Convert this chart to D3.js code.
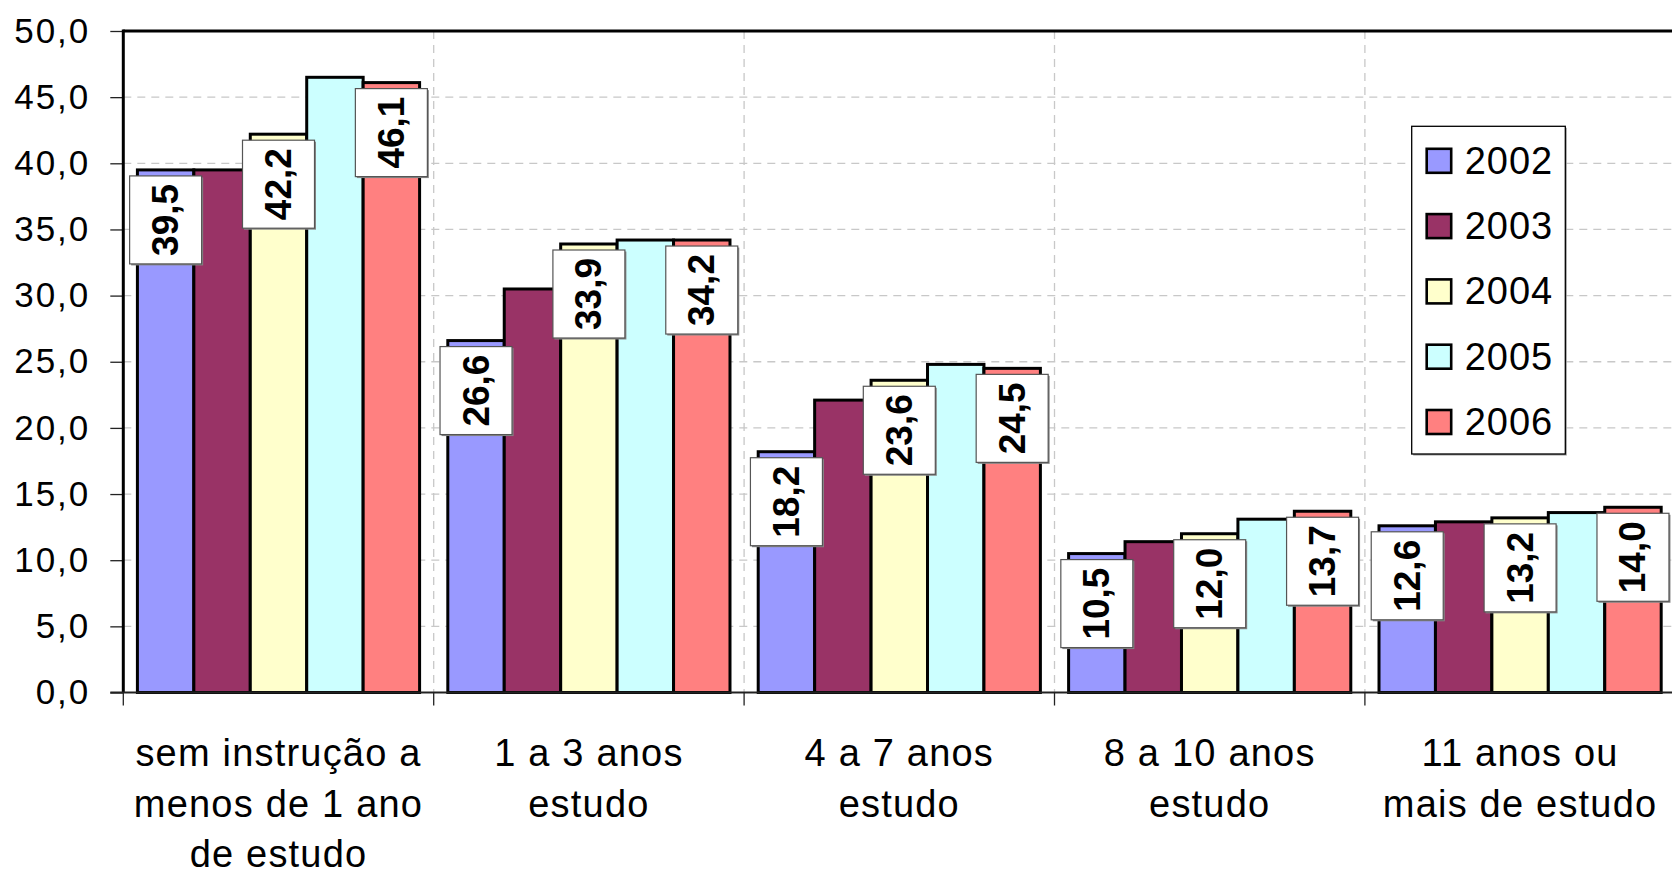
<!DOCTYPE html>
<html>
<head>
<meta charset="utf-8">
<script src="https://cdn.jsdelivr.net/npm/d3@7"></script>
<style>
  body { margin: 0; background: #fff; }
  svg { display: block; font-family: "Liberation Sans", Arial, sans-serif; }
</style>
</head>
<body>
<script>
var width = 1672;
var height = 872;

// data
var categories = [
  ['sem instrução a', 'menos de 1 ano', 'de estudo'],
  ['1 a 3 anos', 'estudo'],
  ['4 a 7 anos', 'estudo'],
  ['8 a 10 anos', 'estudo'],
  ['11 anos ou', 'mais de estudo']
];
var years = ['2002', '2003', '2004', '2005', '2006'];
var values2002 = [39.5, 26.6, 18.2, 10.5, 12.6];
var values2003 = [39.5, 30.5, 22.1, 11.4, 12.9];
var values2004 = [42.2, 33.9, 23.6, 12.0, 13.2];
var values2005 = [46.5, 34.2, 24.8, 13.1, 13.6];
var values2006 = [46.1, 34.2, 24.5, 13.7, 14.0];
var series = [values2002, values2003, values2004, values2005, values2006];
var labelled = ['2002', '2004', '2006'];
var yTicks = [0, 5, 10, 15, 20, 25, 30, 35, 40, 45, 50];

var colors = ['#9999ff', '#993366', '#ffffcc', '#ccffff', '#ff8080'];

var plotLeft = 123.3, plotTop = 31, plotBottom = 692.5;
var step = 310.4;

var svg = d3.select('body').append('svg').attr('width', width).attr('height', height);

var catIdx = categories.map(function(d, i) { return i; });
var x0 = d3.scaleBand().domain(catIdx).range([plotLeft, plotLeft + step * categories.length]).padding(0);
var x1 = d3.scaleBand().domain(years).range([0, x0.bandwidth()]).paddingInner(0).paddingOuter(0.25);
var y = d3.scaleLinear().domain([0, 50]).range([plotBottom, plotTop]);

var comma = function(v) { return d3.format('.1f')(v).replace('.', ','); };

// horizontal dashed grid
svg.append('g').selectAll('line').data(yTicks.slice(1)).enter().append('line')
  .attr('x1', plotLeft).attr('x2', width)
  .attr('y1', function(d) { return y(d); }).attr('y2', function(d) { return y(d); })
  .attr('stroke', '#c8c8c8').attr('stroke-width', 1.3).attr('stroke-dasharray', '8,6');

// vertical dashed grid at category boundaries
svg.append('g').selectAll('line').data(catIdx.slice(1)).enter().append('line')
  .attr('x1', function(d) { return x0(d); }).attr('x2', function(d) { return x0(d); })
  .attr('y1', plotTop).attr('y2', plotBottom)
  .attr('stroke', '#c8c8c8').attr('stroke-width', 1.3).attr('stroke-dasharray', '8,6');

// y axis
var yAxis = d3.axisLeft(y).tickValues(yTicks).tickSize(13).tickPadding(22).tickFormat(comma);
var gy = svg.append('g').attr('transform', 'translate(' + plotLeft + ',0)').call(yAxis);
gy.select('.domain').remove();
gy.selectAll('.tick line').attr('stroke', '#222').attr('stroke-width', 1.3);
gy.selectAll('.tick text').attr('font-size', 35).attr('fill', '#000')
  .attr('font-family', '"Liberation Sans", Arial, sans-serif').style('letter-spacing', '2px')
  .attr('x', -33);

// bars
var groups = svg.append('g').selectAll('g').data(catIdx).enter().append('g')
  .attr('transform', function(c) { return 'translate(' + x0(c) + ',0)'; });

groups.selectAll('rect').data(function(c) {
  return years.map(function(yr, k) { return { year: yr, k: k, v: series[k][c] }; });
}).enter().append('rect')
  .attr('x', function(d) { return x1(d.year); })
  .attr('width', x1.bandwidth())
  .attr('y', function(d) { return y(d.v); })
  .attr('height', function(d) { return plotBottom - y(d.v); })
  .attr('fill', function(d) { return colors[d.k]; })
  .attr('stroke', '#000').attr('stroke-width', 3);

// value labels
var boxW = 72, boxH = 88;
var lab = groups.selectAll('g.lab').data(function(c) {
  return years.map(function(yr, k) { return { year: yr, k: k, v: series[k][c] }; })
    .filter(function(d) { return labelled.indexOf(d.year) >= 0; });
}).enter().append('g').attr('class', 'lab')
  .attr('transform', function(d) {
    return 'translate(' + (x1(d.year) + x1.bandwidth() / 2) + ',' + (y(d.v) + 6 + boxH / 2) + ')';
  });
lab.append('rect').attr('x', -boxW / 2 + 1.5).attr('y', -boxH / 2 + 1.5).attr('width', boxW).attr('height', boxH)
  .attr('fill', '#888');
lab.append('rect').attr('x', -boxW / 2).attr('y', -boxH / 2).attr('width', boxW).attr('height', boxH)
  .attr('fill', '#fff').attr('stroke', '#555').attr('stroke-width', 1.2);
lab.append('text').attr('transform', 'rotate(-90)')
  .attr('text-anchor', 'middle').attr('dominant-baseline', 'central')
  .attr('font-size', 37).attr('font-weight', 'bold')
  .text(function(d) { return comma(d.v); });

// axis frame
svg.append('line').attr('x1', plotLeft).attr('x2', width).attr('y1', plotTop).attr('y2', plotTop)
  .attr('stroke', '#000').attr('stroke-width', 3);
svg.append('line').attr('x1', plotLeft).attr('x2', plotLeft).attr('y1', plotTop - 1.5).attr('y2', plotBottom)
  .attr('stroke', '#000').attr('stroke-width', 3);
svg.append('line').attr('x1', plotLeft - 13).attr('x2', width).attr('y1', plotBottom).attr('y2', plotBottom)
  .attr('stroke', '#222').attr('stroke-width', 2);

// bottom ticks at category boundaries
svg.append('g').selectAll('line').data(catIdx).enter().append('line')
  .attr('x1', function(d) { return x0(d); }).attr('x2', function(d) { return x0(d); })
  .attr('y1', plotBottom).attr('y2', plotBottom + 13)
  .attr('stroke', '#222').attr('stroke-width', 1.3);

// category labels
var cl = svg.append('g').selectAll('text').data(catIdx).enter().append('text')
  .attr('x', function(c) { return x0(c) + x0.bandwidth() / 2; })
  .attr('y', 766)
  .attr('text-anchor', 'middle').attr('font-size', 38).style('letter-spacing', '1.2px');
cl.selectAll('tspan').data(function(c) { return categories[c]; }).enter().append('tspan')
  .attr('x', function() { var c = d3.select(this.parentNode).datum(); return x0(c) + x0.bandwidth() / 2; })
  .attr('dy', function(d, i) { return i === 0 ? 0 : 50.5; })
  .text(function(d) { return d; });

// legend
var lg = svg.append('g').attr('transform', 'translate(1411.7,126.3)');
lg.append('rect').attr('x', 1.5).attr('y', 1.5).attr('width', 153.6).attr('height', 327.7).attr('fill', '#999');
lg.append('rect').attr('width', 153.6).attr('height', 327.7)
  .attr('fill', '#fff').attr('stroke', '#000').attr('stroke-width', 1.3);
var items = lg.selectAll('g.item').data(years).enter().append('g').attr('class', 'item')
  .attr('transform', function(d, i) { return 'translate(0,' + (34.5 + i * 65.3) + ')'; });
items.append('rect').attr('x', 15).attr('y', -12).attr('width', 24.5).attr('height', 24)
  .attr('fill', function(d, i) { return colors[i]; })
  .attr('stroke', '#000').attr('stroke-width', 2.6);
items.append('text').attr('x', 53).attr('dominant-baseline', 'central')
  .attr('font-size', 38).style('letter-spacing', '1px').text(function(d) { return d; });
</script>
</body>
</html>
